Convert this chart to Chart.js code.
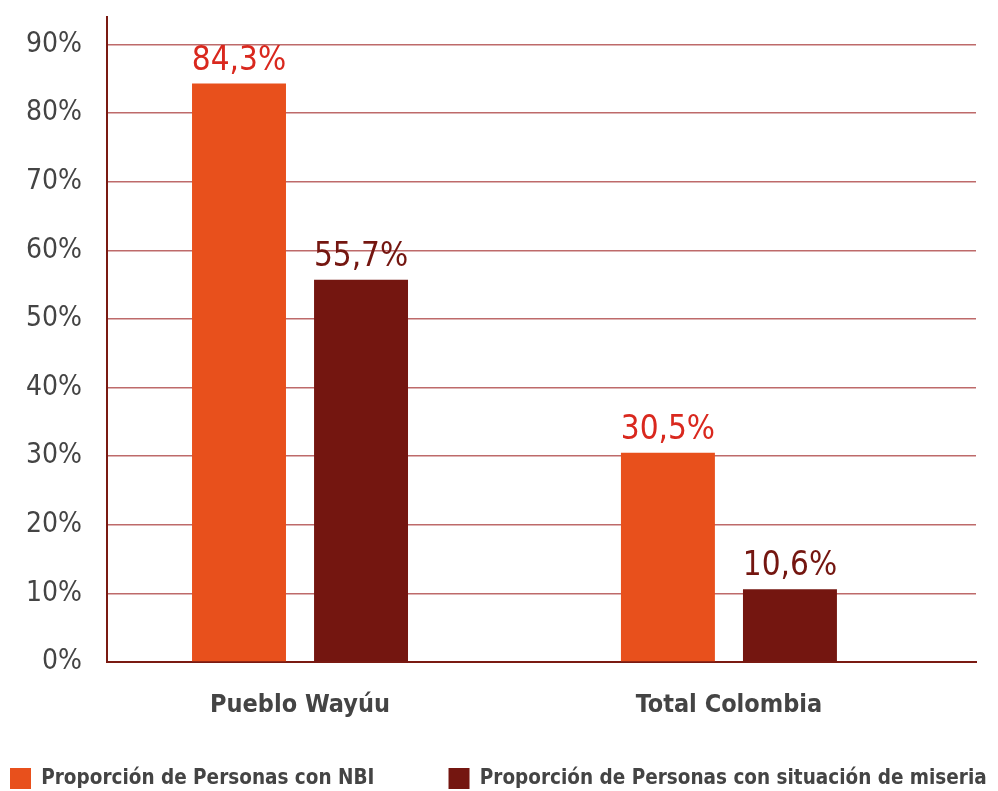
<!DOCTYPE html>
<html>
<head>
<meta charset="utf-8">
<script src="https://cdn.jsdelivr.net/npm/chart.js@4/dist/chart.umd.min.js"></script>
<style>
  html, body { margin: 0; padding: 0; background: #fff; }
  #wrap { width: 998px; height: 791px; }
</style>
</head>
<body>
<div id="wrap"><canvas id="myChart"></canvas></div>
<script>
var categories = ["Pueblo Wayúu", "Total Colombia"];
var nbi = [84.3, 30.5];
var miseria = [55.7, 10.6];
var seriesNames = ["Proporción de Personas con NBI", "Proporción de Personas con situación de miseria"];
var yTicks = [0, 10, 20, 30, 40, 50, 60, 70, 80, 90];

var FONT = "'Liberation Sans Narrow', 'DejaVu Sans Condensed', sans-serif";

function fmt(v) {
  return v.toFixed(1).replace(".", ",") + "%";
}

// labels above each bar
var valueLabels = {
  id: "valueLabels",
  afterDatasetsDraw: function (chart) {
    var ctx = chart.ctx;
    ctx.save();
    ctx.font = "33px " + FONT;
    ctx.textAlign = "center";
    ctx.textBaseline = "alphabetic";
    chart.data.datasets.forEach(function (ds, i) {
      chart.getDatasetMeta(i).data.forEach(function (bar, j) {
        ctx.fillStyle = ds.labelColor;
        ctx.fillText(fmt(ds.data[j].y), bar.x, bar.y - 14);
      });
    });
    ctx.restore();
  }
};

var ctx = document.getElementById("myChart");
var myChart = new Chart(ctx, {
  type: "bar",
  data: {
    datasets: [
      {
        label: seriesNames[0],
        data: nbi.map(function (v, i) { return { x: i, y: v }; }),
        backgroundColor: "#E8501C",
        labelColor: "#D9281E",
        categoryPercentage: 0.569,
        barPercentage: 0.77
      },
      {
        label: seriesNames[1],
        data: miseria.map(function (v, i) { return { x: i, y: v }; }),
        backgroundColor: "#741610",
        labelColor: "#741610",
        categoryPercentage: 0.569,
        barPercentage: 0.77
      }
    ]
  },
  options: {
    responsive: true,
    maintainAspectRatio: false,
    animation: false,
    layout: { padding: { top: 17, right: 0, left: 0, bottom: -8 } },
    plugins: {
      tooltip: { enabled: false },
      legend: {
        position: "bottom",
        align: "start",
        labels: {
          boxWidth: 21,
          boxHeight: 21,
          padding: 10,
          color: "#444",
          font: { family: FONT, size: 20.5, weight: "bold" },
          generateLabels: function (chart) {
            var items = Chart.defaults.plugins.legend.labels.generateLabels(chart);
            // wider gap after the first entry
            items[0].text = items[0].text + "          ";
            return items;
          }
        }
      }
    },
    scales: {
      x: {
        type: "linear",
        offset: false,
        min: -0.45,
        max: 1.576,
        grid: { display: false },
        border: { color: "#7a1a12", width: 2 },
        afterBuildTicks: function (scale) {
          scale.ticks = categories.map(function (c, i) { return { value: i }; });
        },
        afterFit: function (scale) { scale.height = scale.height + 18; },
        ticks: {
          padding: 20,
          color: "#444",
          font: { family: FONT, size: 25, weight: "bold" },
          callback: function (v) { return categories[v]; }
        }
      },
      y: {
        min: 0,
        max: 94,
        afterBuildTicks: function (scale) {
          scale.ticks = yTicks.map(function (v) { return { value: v }; });
        },
        afterFit: function (scale) {
          scale.width = 107;
          scale.paddingTop = 0;
        },
        grid: { color: "#BE6A6A", lineWidth: 1.5, drawTicks: false },
        border: { color: "#7a1a12", width: 2 },
        ticks: {
          padding: 25,
          color: "#444",
          font: { family: FONT, size: 28 },
          callback: function (v) { return v + "%"; }
        }
      },
      // empty right axis, only keeps the plot clear of the right edge
      yRight: {
        position: "right",
        min: 0,
        max: 94,
        grid: { display: false },
        border: { display: false },
        ticks: { display: false },
        afterFit: function (scale) { scale.width = 22; }
      }
    }
  },
  plugins: [valueLabels]
});
</script>
</body>
</html>
